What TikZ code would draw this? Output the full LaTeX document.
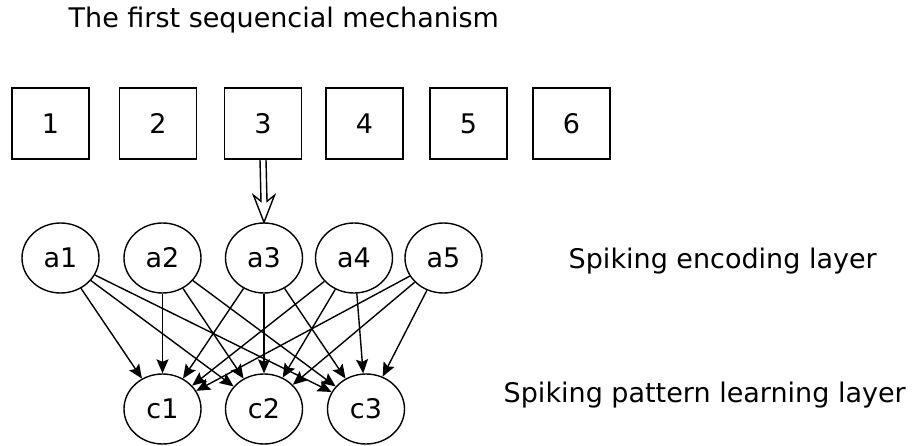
\documentclass[tikz,border=0pt]{standalone}
\usepackage{fontspec}
\setmainfont{DejaVu Sans}
\usetikzlibrary{shapes.geometric,arrows.meta,calc}
\begin{document}
\begin{tikzpicture}[x=1pt,y=-1pt,line width=1.4pt,
  every node/.style={font=\fontsize{27pt}{32pt}\selectfont},
  cell/.style={draw,minimum width=77pt,minimum height=71pt,inner sep=0pt},
  neuron/.style={draw,ellipse,minimum width=77pt,minimum height=70pt,inner sep=0pt},
  link/.style={-{Stealth[length=14pt,width=12pt,inset=2.5pt]}},
  caption/.style={anchor=base west,inner sep=0pt}]
\useasboundingbox (0,0) rectangle (912,446);

% captions
\node[caption] (title) at (68,28) {The first sequencial mechanism};
\node[caption] (enc) at (568,268) {Spiking encoding layer};
\node[caption] (pat) at (503,402) {Spiking pattern learning layer};

% input sequence
\node[cell] (b1) at (50.5,123.5) {1};
\node[cell] (b2) at (158,123.5) {2};
\node[cell] (b3) at (263,123.5) {3};
\node[cell] (b4) at (364.5,123.5) {4};
\node[cell] (b5) at (468.5,123.5) {5};
\node[cell] (b6) at (571.5,123.5) {6};

% encoding layer
\node[neuron] (a1) at (60.5,258) {a1};
\node[neuron] (a2) at (162.5,258) {a2};
\node[neuron] (a3) at (264,258) {a3};
\node[neuron] (a4) at (354,258) {a4};
\node[neuron] (a5) at (443.5,258) {a5};

% learning layer
\node[neuron] (c1) at (162.5,409) {c1};
\node[neuron] (c2) at (264,409) {c2};
\node[neuron] (c3) at (366,409) {c3};

% hollow double arrow from the current element to its encoder
\draw[line join=miter]
  ($(b3.south)+(-3,0)$) -- ($(a3.north)+(-3,-21)$) -- ($(a3.north)+(-10.5,-27)$)
  -- (a3.north) -- ($(a3.north)+(10.5,-27)$) -- ($(a3.north)+(3,-21)$)
  -- ($(b3.south)+(3,0)$);

% full connections between the layers
\foreach \i in {1,...,5}
  \foreach \j in {1,2,3}
    \draw[link] (a\i) -- (c\j);
\end{tikzpicture}
\end{document}
